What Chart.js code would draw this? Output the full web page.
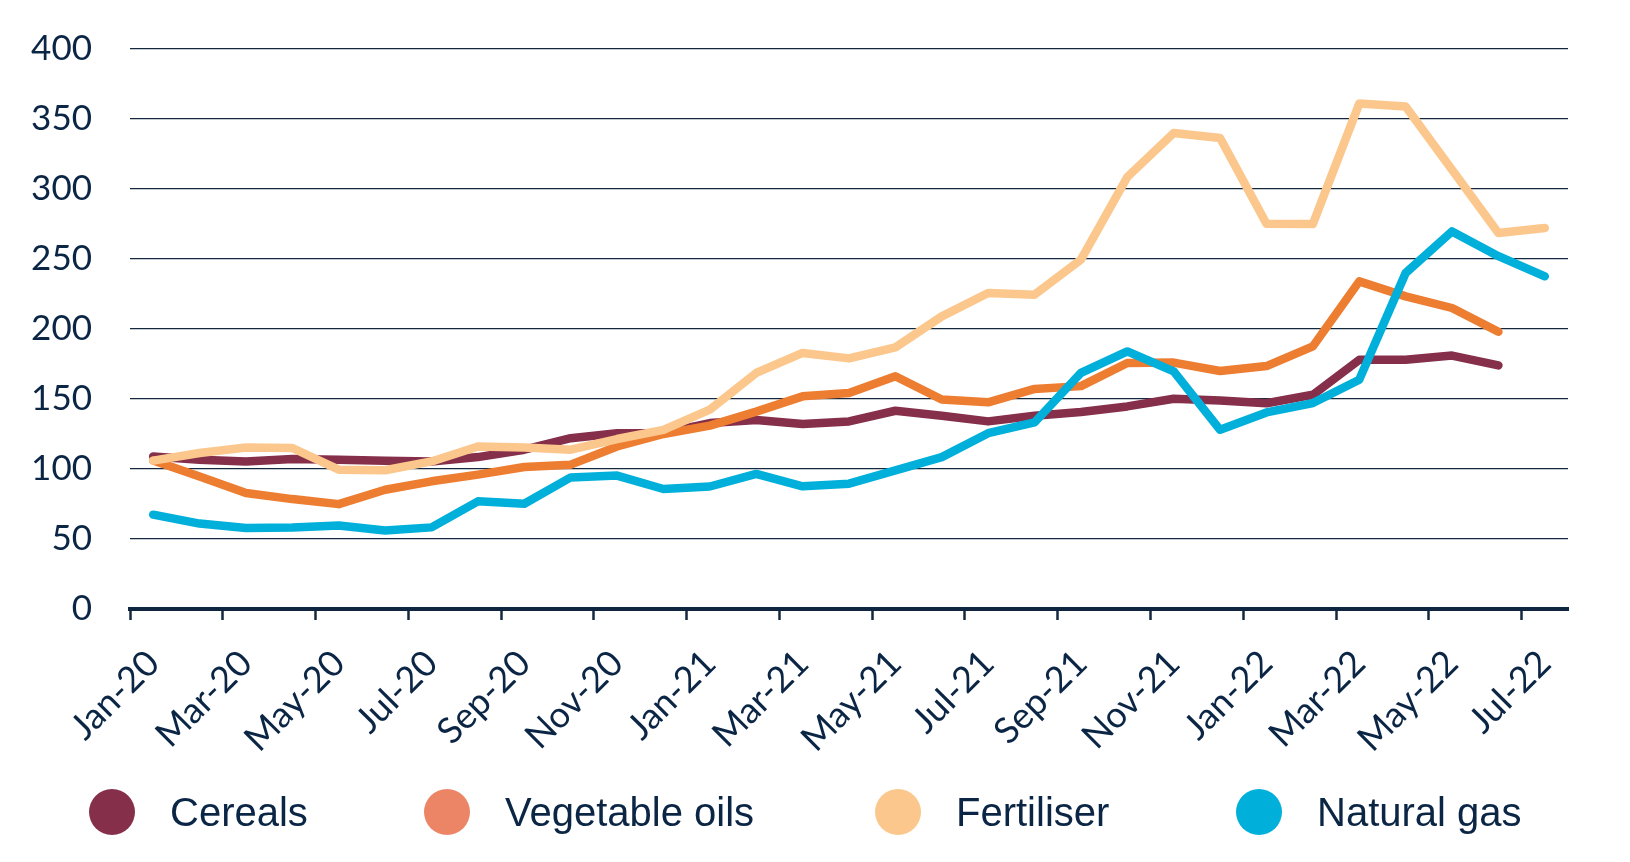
<!DOCTYPE html>
<html>
<head>
<meta charset="utf-8">
<script src="https://cdn.jsdelivr.net/npm/chart.js@4/dist/chart.umd.min.js"></script>
<style>
  html, body { margin: 0; padding: 0; background: #ffffff; }
  #wrap { position: relative; width: 1630px; height: 862px; overflow: hidden; }
  #c { position: absolute; left: 0; top: 0; }
  .lg { position: absolute; top: 789px; height: 46px; display: flex; align-items: center;
        font-family: "Liberation Sans", Arial, sans-serif; font-size: 40px; color: #0b2545; white-space: nowrap; }
  .lg .dot { width: 46px; height: 46px; border-radius: 50%; margin-right: 35px; flex: none; }
</style>
</head>
<body>
<div id="wrap">
  <canvas id="c" width="1630" height="862"></canvas>
</div>
<script>
// ---- Data ----
const months = ["Jan-20","Feb-20","Mar-20","Apr-20","May-20","Jun-20","Jul-20","Aug-20","Sep-20","Oct-20","Nov-20","Dec-20",
                "Jan-21","Feb-21","Mar-21","Apr-21","May-21","Jun-21","Jul-21","Aug-21","Sep-21","Oct-21","Nov-21","Dec-21",
                "Jan-22","Feb-22","Mar-22","Apr-22","May-22","Jun-22","Jul-22"];
const cereals = [109, 106.6, 105.4, 107.1, 106.6, 105.9, 105.4, 108.5, 113.8, 122, 125.5, 125.7,
                 132.8, 135, 132.1, 134, 141.6, 138.1, 134, 138.1, 140.7, 144.7, 150.2, 149,
                 147, 153, 178, 178, 181, 174, null];
const vegetableOils = [106, 94.7, 82.9, 78.5, 74.9, 85.2, 91.2, 96, 101.4, 103.1, 116.1, 125,
                       131, 141, 151.9, 154.3, 166.2, 149.6, 147.6, 157.2, 159.2, 175.7, 176, 170,
                       173.5, 187.6, 234, 223.3, 215, 198, null];
const fertiliser = [106, 111.4, 115.4, 115, 99.5, 99.1, 105.4, 116.1, 115.4, 113.8, 121.4, 128,
                    142.4, 168.6, 182.9, 179, 186.9, 209, 225.7, 224.5, 249.5, 308.6, 340, 336.4,
                    275.2, 275, 361, 359, 313.8, 268.6, 272.1];
const naturalGas = [67.4, 61, 57.8, 58.3, 59.7, 56.1, 58.3, 76.9, 75.2, 94, 95.3, 85.7,
                    87.5, 96.5, 87.6, 89.5, 99, 108.5, 125.6, 133.3, 168.6, 184, 169.7, 128,
                    140.4, 147.1, 163.8, 240, 269.7, 252, 237.6];
const seriesNames = ["Cereals", "Vegetable oils", "Fertiliser", "Natural gas"];
const yTicks = [0, 50, 100, 150, 200, 250, 300, 350, 400];

// ---- Styles ----
const lineColors = ["#862f4a", "#ed7d31", "#fcc78c", "#00b0da"];
const legendColors = ["#862f4a", "#ec8466", "#fcc78c", "#00b0da"];
const legendLeft = [89, 424, 875, 1236];
const textColor = "#0b2545";
const gridColor = "#14293f";

const seriesData = [cereals, vegetableOils, fertiliser, naturalGas];
const datasets = seriesData.map((d, i) => ({
  label: seriesNames[i],
  data: d,
  borderColor: lineColors[i],
  backgroundColor: lineColors[i],
  borderWidth: 8.5,
  pointRadius: 0,
  pointHoverRadius: 0,
  tension: 0,
  fill: false,
  spanGaps: false,
  borderCapStyle: "round",
  borderJoinStyle: "round",
  order: 4 - i
}));

new Chart(document.getElementById("c"), {
  type: "line",
  data: { labels: months, datasets: datasets },
  options: {
    responsive: false,
    animation: false,
    devicePixelRatio: 1,
    layout: { padding: { top: 49, right: 62, bottom: 0, left: 0 } },
    plugins: { legend: { display: false }, tooltip: { enabled: false } },
    scales: {
      x: {
        type: "category",
        offset: true,
        grid: {
          offset: true,
          drawOnChartArea: false,
          drawTicks: true,
          tickLength: 11,
          tickWidth: 2.5,
          tickColor: (ctx) => (ctx.index !== undefined && ctx.index % 2 === 0) ? gridColor : "rgba(0,0,0,0)",
          color: "rgba(0,0,0,0)"
        },
        border: { display: true, color: "#0e2640", width: 4 },
        ticks: {
          autoSkip: false,
          minRotation: 45,
          maxRotation: 45,
          padding: 22,
          color: textColor,
          font: { family: "Lato, 'Open Sans', sans-serif", size: 36 },
          callback: function (val, i) { return i % 2 === 0 ? this.getLabelForValue(val) : ""; }
        },
        afterFit: (s) => { s.height = 253; s.paddingLeft = 0; s.paddingRight = 0; }
      },
      y: {
        min: 0,
        max: 400,
        afterBuildTicks: (s) => { s.ticks = yTicks.map(v => ({ value: v })); },
        grid: { color: gridColor, lineWidth: 1.2, drawTicks: false },
        border: { display: false },
        ticks: {
          padding: 38,
          color: textColor,
          font: { family: "Lato, 'Open Sans', sans-serif", size: 35 }
        },
        afterFit: (s) => { s.width = 130; s.paddingTop = 0; s.paddingBottom = 0; }
      }
    }
  }
});

// ---- HTML legend ----
const wrap = document.getElementById("wrap");
seriesNames.forEach((n, i) => {
  const d = document.createElement("div");
  d.className = "lg";
  d.style.left = legendLeft[i] + "px";
  const dot = document.createElement("span");
  dot.className = "dot";
  dot.style.background = legendColors[i];
  const t = document.createElement("span");
  t.textContent = n;
  d.appendChild(dot);
  d.appendChild(t);
  wrap.appendChild(d);
});
</script>
</body>
</html>
